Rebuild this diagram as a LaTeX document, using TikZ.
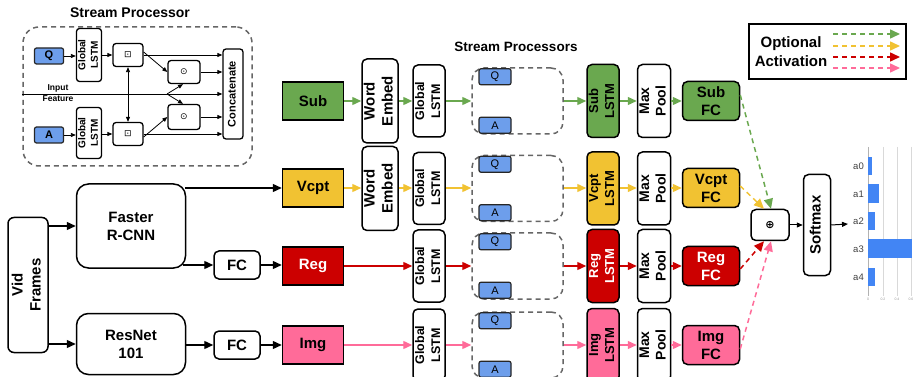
\documentclass[tikz,border=0pt]{standalone}
\usepackage{fontspec}
\setmainfont{Liberation Sans}
\newfontfamily\symfont{DejaVu Sans}
\usetikzlibrary{arrows.meta,calc}
\definecolor{cgreen}{HTML}{6AA84F}
\definecolor{cyellow}{HTML}{F1C232}
\definecolor{cred}{HTML}{CC0000}
\definecolor{cpink}{HTML}{FF6B99}
\definecolor{cblue}{HTML}{6D9EEB}
\definecolor{cbar}{HTML}{4285F4}
\definecolor{cgray}{HTML}{666666}
\newcommand{\vtext}[1]{\rotatebox{90}{\begin{tabular}{@{}c@{}}#1\end{tabular}}}
\newcommand{\fsz}[2]{\fontsize{#1}{#2}\selectfont}
\begin{document}
\begin{tikzpicture}[x=1pt,y=-1pt,
  bx/.style={draw, line width=1.5pt, inner sep=0pt, align=center, fill=white, font=\bfseries\fsz{15}{18}},
  rbx/.style={bx, rounded corners=5pt},
  sz/.style 2 args={minimum width=#1pt, minimum height=#2pt},
  glx/.style={rbx, sz={30}{72}, font=\bfseries\fsz{12.5}{16}},
  lstmx/.style={rbx, sz={29}{73}, font=\bfseries\fsz{13}{16}},
  mpx/.style={rbx, sz={29}{73}, font=\bfseries\fsz{14}{16.5}},
  fcx/.style={rbx, sz={57}{39}},
  srcx/.style={bx, sz={61}{38}},
  wex/.style={rbx, sz={34}{84}},
  spx/.style={draw=cgray, dashed, dash pattern=on 5pt off 4pt, line width=1.5pt, rounded corners=12pt, sz={91}{66}, inner sep=0pt},
  qa/.style={draw=black!85, fill=cblue, line width=1.2pt, rounded corners=2pt, sz={32}{16}, inner sep=0pt, font=\fsz{11}{12}},
  carr/.style={draw=#1, line width=1.4pt, -{Triangle[length=9pt,width=8pt,fill=#1]}},
  barr/.style={draw=black, line width=1.4pt, -{Triangle[length=9pt,width=8pt]}},
  darr/.style={draw=#1, line width=1.5pt, dash pattern=on 5pt off 4pt, -{Triangle[length=10pt,width=9pt,fill=#1]}},
  iarr/.style={draw=black, line width=0.8pt, -{Triangle[length=5pt,width=4pt]}},
  ibx/.style={draw, line width=1.3pt, rounded corners=3pt, inner sep=0pt, fill=white, align=center},
]
\useasboundingbox (0,0) rectangle (914,377);
\clip (0,0) rectangle (914,377);

% ---------------- inset stream processor ----------------
\node[font=\bfseries\fsz{14}{16}] (ititle) at (130,13) {Stream Processor};
\node[draw=cgray, dashed, dash pattern=on 5pt off 4pt, line width=1.5pt, rounded corners=16pt, sz={229}{139}, inner sep=0pt] (ibox) at (137.5,96.5) {};
\node[qa, sz={29}{16}, font=\bfseries\fsz{11}{12}] (iq) at (49,56) {Q};
\node[qa, sz={29}{16}, font=\bfseries\fsz{11}{12}] (ia) at (49,135) {A};
\node[ibx, sz={25}{53}, font=\bfseries\fsz{10}{12.5}] (igl1) at (89,55) {\vtext{Global\\LSTM}};
\node[ibx, sz={25}{51}, font=\bfseries\fsz{10}{12.5}] (igl2) at (89,133) {\vtext{Global\\LSTM}};
\node[ibx, sz={30}{23}, font=\symfont\fsz{9}{10}] (ib1) at (128,55) {⊡};
\node[ibx, sz={30}{23}, font=\symfont\fsz{9}{10}] (ib2) at (128,134) {⊡};
\node[ibx, sz={32}{23}, font=\symfont\fsz{9}{10}] (io1) at (184,72) {⊙};
\node[ibx, sz={32}{25}, font=\symfont\fsz{9}{10}] (io2) at (184,117) {⊙};
\node[ibx, sz={20}{90}, font=\bfseries\fsz{11}{13}] (icat) at (233,94) {\vtext{Concatenate}};
\coordinate (iin) at (22,94);
\node[font=\bfseries\fsz{8.5}{10}] (iinl1) at (58,88) {Input};
\node[font=\bfseries\fsz{8.5}{10}] (iinl2) at (58,99) {Feature};
\coordinate (ix) at (167,94);
\draw[iarr] (iq) -- (igl1.west |- iq);
\draw[iarr] (ia) -- (igl2.west |- ia);
\draw[iarr] (igl1.east |- ib1) -- (ib1);
\draw[iarr] (igl2.east |- ib2) -- (ib2);
\draw[iarr] (ib1.east) -- (icat.west |- ib1.east);
\draw[iarr] (ib2.east) -- (icat.west |- ib2.east);
\draw[iarr] (io1.east) -- (icat.west |- io1.east);
\draw[iarr] (io2.east) -- (icat.west |- io2.east);
\draw[iarr] ([yshift=3pt]ib1.east) -- (io1.west);
\draw[iarr] ([yshift=-3pt]ib2.east) -- (io2.west);
\draw[iarr] (iin) -- (icat.west |- iin);
\draw[iarr] (ix) -- ([xshift=-1pt]io1.south);
\draw[iarr] (ix) -- ([xshift=-1pt]io2.north);
\draw[iarr, {Triangle[length=5pt,width=4pt]}-{Triangle[length=5pt,width=4pt]}] (ib1.south) -- (ib2.north);

% ---------------- left feature extractors ----------------
\node[rbx, sz={40}{135}, rounded corners=6pt] (vid) at (28,285) {\vtext{Vid\\Frames}};
\node[rbx, sz={109}{84}, rounded corners=12pt] (frcnn) at (131,226) {Faster\\R-CNN};
\node[rbx, sz={109}{61}, rounded corners=12pt] (resnet) at (131,344) {ResNet\\101};
\node[rbx, sz={46}{28}] (fca) at (237,265) {FC};
\node[rbx, sz={46}{28}] (fcb) at (237,345) {FC};

% ---------------- sources ----------------
\node[srcx, fill=cgreen] (sub) at (313,101) {Sub};
\node[srcx, fill=cyellow] (vcpt) at (313,188) {Vcpt};
\node[srcx, fill=cred, text=white] (reg) at (313,266) {Reg};
\node[srcx, fill=cpink] (img) at (313,345) {Img};

\draw[barr] (vid.east |- frcnn.west) -- (frcnn.west);
\draw[barr] (vid.east |- resnet.west) -- (resnet.west);
\draw[barr] ([xshift=-1pt]frcnn.east |- vcpt.west) -- (vcpt.west);
\draw[barr] ([xshift=-3pt]frcnn.east |- fca.west) -- (fca.west);
\draw[barr] (resnet.east |- fcb.west) -- (fcb.west);
\draw[barr] (fca.east) -- (reg.west |- fca.east);
\draw[barr] (fcb) -- (img);

% ---------------- word embed / global lstm ----------------
\node[wex] (we1) at (380,101) {\vtext{Word\\Embed}};
\node[wex] (we2) at (380,188.5) {\vtext{Word\\Embed}};
\node[glx] (gl1) at (429,101) {\vtext{Global\\LSTM}};
\node[glx] (gl2) at (429,188.5) {\vtext{Global\\LSTM}};
\node[glx] (gl3) at (429,266) {\vtext{Global\\LSTM}};
\node[glx] (gl4) at (429,345) {\vtext{Global\\LSTM}};

% ---------------- stream processors ----------------
\node[font=\bfseries\fsz{13.5}{16}] (sptitle) at (516,47) {Stream Processors};
\foreach \n/\y in {1/101,2/188.5,3/266,4/345}{
  \node[spx] (sp\n) at (517.5,\y) {};
  \node[qa] (q\n) at ($(sp\n.north)+(-22.5,9.5)$) {Q};
  \node[qa] (a\n) at ($(sp\n.south)+(-22.5,-9.5)$) {A};
}

% ---------------- stream LSTMs / pools / FCs ----------------
\node[lstmx, fill=cgreen] (ls1) at (603,101) {\vtext{Sub\\LSTM}};
\node[lstmx, fill=cyellow] (ls2) at (603,188.5) {\vtext{Vcpt\\LSTM}};
\node[lstmx, fill=cred, text=white] (ls3) at (603,266) {\vtext{Reg\\LSTM}};
\node[lstmx, fill=cpink] (ls4) at (603,345) {\vtext{Img\\LSTM}};
\foreach \n/\y in {1/101,2/188.5,3/266,4/345}{
  \node[mpx] (mp\n) at (654,\y) {\vtext{Max\\Pool}};
}
\node[fcx, fill=cgreen] (sfc) at (711,101) {Sub\\FC};
\node[fcx, fill=cyellow] (vfc) at (711,188) {Vcpt\\FC};
\node[fcx, fill=cred, text=white] (rfc) at (711,266) {Reg\\FC};
\node[fcx, fill=cpink] (ifc) at (711,345) {Img\\FC};

% ---------------- coloured flows ----------------
\draw[carr=cgreen] (sub) -- (we1);
\draw[carr=cgreen] (we1) -- (gl1);
\draw[carr=cgreen] (gl1) -- (sp1.west);
\draw[carr=cgreen] (sp1.east) -- (ls1);
\draw[carr=cgreen] (ls1) -- (mp1);
\draw[carr=cgreen] (mp1) -- (sfc);

\draw[carr=cyellow] (vcpt) -- (we2.west |- vcpt);
\draw[carr=cyellow] (we2.east |- vcpt) -- (gl2.west |- vcpt);
\draw[carr=cyellow] (gl2.east |- vcpt) -- (sp2.west |- vcpt);
\draw[carr=cyellow] (sp2.east |- vcpt) -- (ls2.west |- vcpt);
\draw[carr=cyellow] (ls2.east |- vcpt) -- (mp2.west |- vcpt);
\draw[carr=cyellow] (mp2.east |- vcpt) -- (vfc.west);

\draw[carr=cred] (reg) -- (gl3);
\draw[carr=cred] (gl3) -- (sp3.west);
\draw[carr=cred] (sp3.east) -- (ls3);
\draw[carr=cred] (ls3) -- (mp3);
\draw[carr=cred] (mp3) -- (rfc);

\draw[carr=cpink] (img) -- (gl4);
\draw[carr=cpink] (gl4) -- (sp4.west);
\draw[carr=cpink] (sp4.east) -- (ls4);
\draw[carr=cpink] (ls4) -- (mp4);
\draw[carr=cpink] (mp4) -- (ifc);

% ---------------- fusion ----------------
\node[rbx, sz={38}{31}, font=\symfont\bfseries\fsz{11}{12}] (oplus) at (770,225) {⊕};
\node[rbx, sz={27}{101}] (smax) at (817,225) {\vtext{Softmax}};
\coordinate (chartin) at (848,224);
\draw[iarr, line width=1pt, -{Triangle[length=6pt,width=5pt]}] (oplus.east) -- (smax.west);
\draw[iarr, line width=1pt, -{Triangle[length=6pt,width=5pt]}] (smax.east) -- (chartin);

\draw[darr=cgreen] ([yshift=6pt]sfc.east) -- ([xshift=1pt]oplus.north);
\draw[darr=cyellow] ([yshift=2pt]vfc.east) -- ([xshift=-6pt]oplus.north);
\draw[darr=cred] ([yshift=-3pt]rfc.east) -- ([xshift=-6pt]oplus.south);
\draw[darr=cpink] ([yshift=-4pt]ifc.east) -- ([xshift=1pt]oplus.south);

% ---------------- legend ----------------
\node[draw, line width=1.5pt, sz={157}{55}, inner sep=0pt] (leg) at (827.5,51.5) {};
\node[font=\bfseries\fsz{15}{19}, align=center] (legt) at (791,52) {Optional\\Activation};
\foreach \c/\y in {cgreen/34,cyellow/46,cred/57,cpink/68}{
  \coordinate (ls\c) at (833,\y);
  \coordinate (le\c) at (900,\y);
  \draw[darr=\c] (ls\c) -- (le\c);
}

% ---------------- bar chart ----------------
\foreach \x in {883,897,911}{ \draw[black!15, line width=0.6pt] (\x,147) -- (\x,296); }
\draw[black!30, line width=1pt] (868,147) -- (868,296);
\fill[cbar] (868,157) rectangle (872,175);
\fill[cbar] (868,184) rectangle (879,203);
\fill[cbar] (868,212) rectangle (875,230);
\fill[cbar] (868,239) rectangle (912,258);
\fill[cbar] (868,268) rectangle (875,286);
\foreach \l/\y in {a0/166,a1/194,a2/221,a3/249,a4/277}{
  \node[anchor=east, font=\fsz{9.5}{11}, text=black!75, inner sep=0pt] (lab\l) at (864,\y) {\l};
}
\foreach \x/\t in {868/0,883/0.2,897/0.4,911/0.6}{
  \node[font=\fsz{3.5}{4}, text=black!40, inner sep=0pt] (tick\x) at (\x,299) {\t};
}
\end{tikzpicture}
\end{document}
